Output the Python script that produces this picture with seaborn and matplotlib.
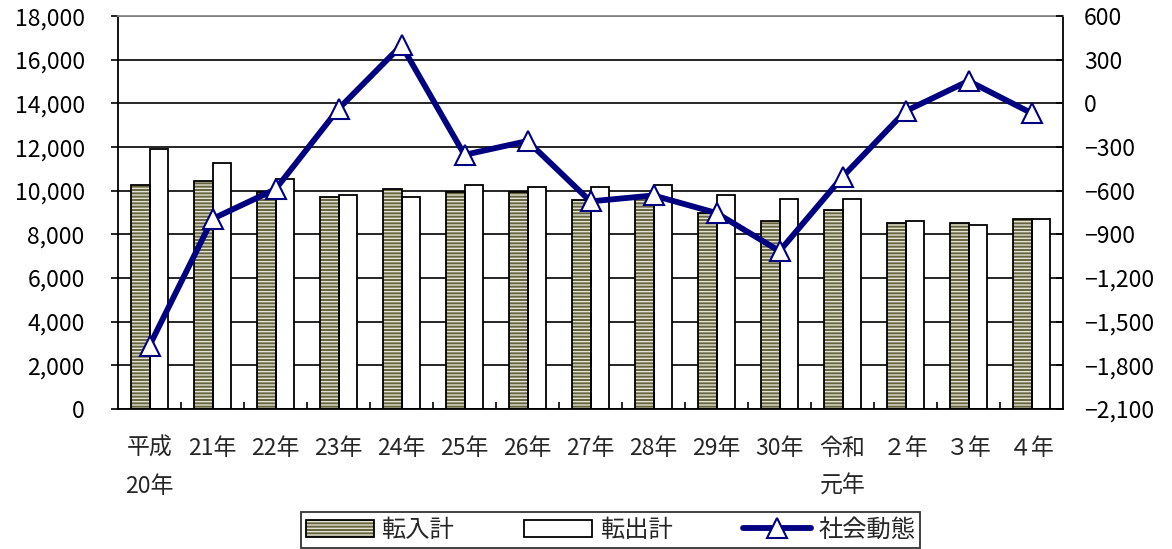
import numpy as np
import pandas as pd
import matplotlib
matplotlib.use("Agg")
import matplotlib.pyplot as plt
import seaborn as sns
from matplotlib.patches import Rectangle, Patch
from matplotlib.lines import Line2D
from matplotlib.legend_handler import HandlerTuple
from matplotlib.ticker import FuncFormatter, FixedLocator

categories = ["平成\n20年", "21年", "22年", "23年", "24年", "25年", "26年", "27年",
              "28年", "29年", "30年", "令和\n元年", "２年", "３年", "４年"]
tennyu = [10265, 10449, 9935, 9734, 10100, 9945, 9945, 9565,
          9700, 9002, 8618, 9108, 8545, 8545, 8728]
tenshutsu = [11932, 11290, 10558, 9808, 9716, 10265, 10192, 10192,
             10265, 9808, 9643, 9643, 8636, 8435, 8728]
shakai = [-1664, -793, -589, -37, 400, -353, -258, -673,
          -632, -753, -1015, -504, -53, 155, -66]
series_names = ["転入計", "転出計", "社会動態"]

sns.set_theme(style="white")
plt.rcParams['font.family'] = ['Noto Sans CJK JP', 'DejaVu Sans']
plt.rcParams['hatch.linewidth'] = 1.0

FS = 16.5
olive = "#66643f"
stripe = "#e4e4d4"
navy = "#000080"

df = pd.DataFrame({
    "cat": categories * 2,
    "series": [series_names[0]] * len(categories) + [series_names[1]] * len(categories),
    "value": tennyu + tenshutsu,
})

fig = plt.figure(figsize=(11.72, 5.49), dpi=100)
ax = fig.add_axes([0.1007, 0.255, 0.8063, 0.7155])

sns.barplot(data=df, x="cat", y="value", hue="series", order=categories,
            hue_order=series_names[:2], palette=[olive, "white"],
            width=0.575, dodge=True, ax=ax, legend=False, saturation=1)

n = len(categories)
bar_patches = [p for p in ax.patches if isinstance(p, Rectangle)][:2 * n]
for i, p in enumerate(bar_patches):
    if i < n:
        p.set_facecolor(olive)
        p.set_hatch("-----")
        p.set_edgecolor(stripe)
        p.set_linewidth(0)
        ax.add_patch(Rectangle(p.get_xy(), p.get_width(), p.get_height(),
                               fill=False, edgecolor="black", linewidth=1.3,
                               zorder=p.get_zorder() + 0.1))
    else:
        p.set_facecolor("white")
        p.set_edgecolor("black")
        p.set_linewidth(1.3)

ax.set_ylim(0, 18000)
ax.set_xlim(-0.5, n - 0.5)
ax.set_yticks(np.arange(0, 18001, 2000))
ax.yaxis.set_major_formatter(FuncFormatter(lambda v, pos: f"{int(v):,}"))
ax.set_axisbelow(True)
ax.yaxis.grid(True, color="black", linewidth=1.2)
ax.set_xlabel("")
ax.set_ylabel("")
ax.tick_params(axis="y", which="major", direction="out", length=5, width=1.2,
               labelsize=FS, pad=19, colors="black", left=True)
ax.tick_params(axis="x", which="major", length=0, labelsize=FS, pad=20)
ax.xaxis.set_minor_locator(FixedLocator(np.arange(0.5, n - 1, 1)))
ax.tick_params(axis="x", which="minor", direction="in", length=5, width=1.2,
               bottom=True, color="black")
for lbl in ax.get_xticklabels():
    lbl.set_linespacing(1.85)
    lbl.set_verticalalignment("top")
for side in ["left", "bottom", "right"]:
    ax.spines[side].set_color("black")
    ax.spines[side].set_linewidth(1.3)
ax.spines["top"].set_color("#8a8a8a")
ax.spines["top"].set_linewidth(1.3)

ax2 = ax.twinx()
sns.lineplot(x=np.arange(n), y=shakai, ax=ax2, color=navy, linewidth=4.2,
             marker="^", markersize=15, markerfacecolor="white",
             markeredgecolor=navy, markeredgewidth=1.5, legend=False, sort=False)
ax2.set_ylim(-2100, 600)
ax2.set_yticks(np.arange(-2100, 601, 300))
ax2.yaxis.set_major_formatter(FuncFormatter(lambda v, pos: f"{int(v):,}".replace("-", "\u2212")))
ax2.tick_params(axis="y", direction="in", length=5, width=1.2, labelsize=FS, pad=15,
                colors="black", right=True)
ax2.grid(False)
ax2.set_ylabel("")
for sp in ax2.spines.values():
    sp.set_visible(False)

h1 = (Patch(facecolor=olive, edgecolor=stripe, hatch="-----", linewidth=0),
      Patch(facecolor="none", edgecolor="black", linewidth=1.3))
h2 = Patch(facecolor="white", edgecolor="black", linewidth=1.3)
h3 = Line2D([], [], color=navy, linewidth=4.2, marker="^", markersize=15,
            markerfacecolor="white", markeredgecolor=navy, markeredgewidth=1.5)
leg = fig.legend([h1, h2, h3], series_names, loc="center", bbox_to_anchor=(0.521, 0.035),
                 ncol=3, frameon=True, fancybox=False, edgecolor="black",
                 fontsize=FS + 1, handlelength=2.8, handleheight=0.7, columnspacing=2.9,
                 handletextpad=0.3, borderpad=0.2, borderaxespad=0,
                 handler_map={tuple: HandlerTuple(ndivide=1)})
leg.get_frame().set_linewidth(1.3)

fig.savefig("out.png", dpi=100)
